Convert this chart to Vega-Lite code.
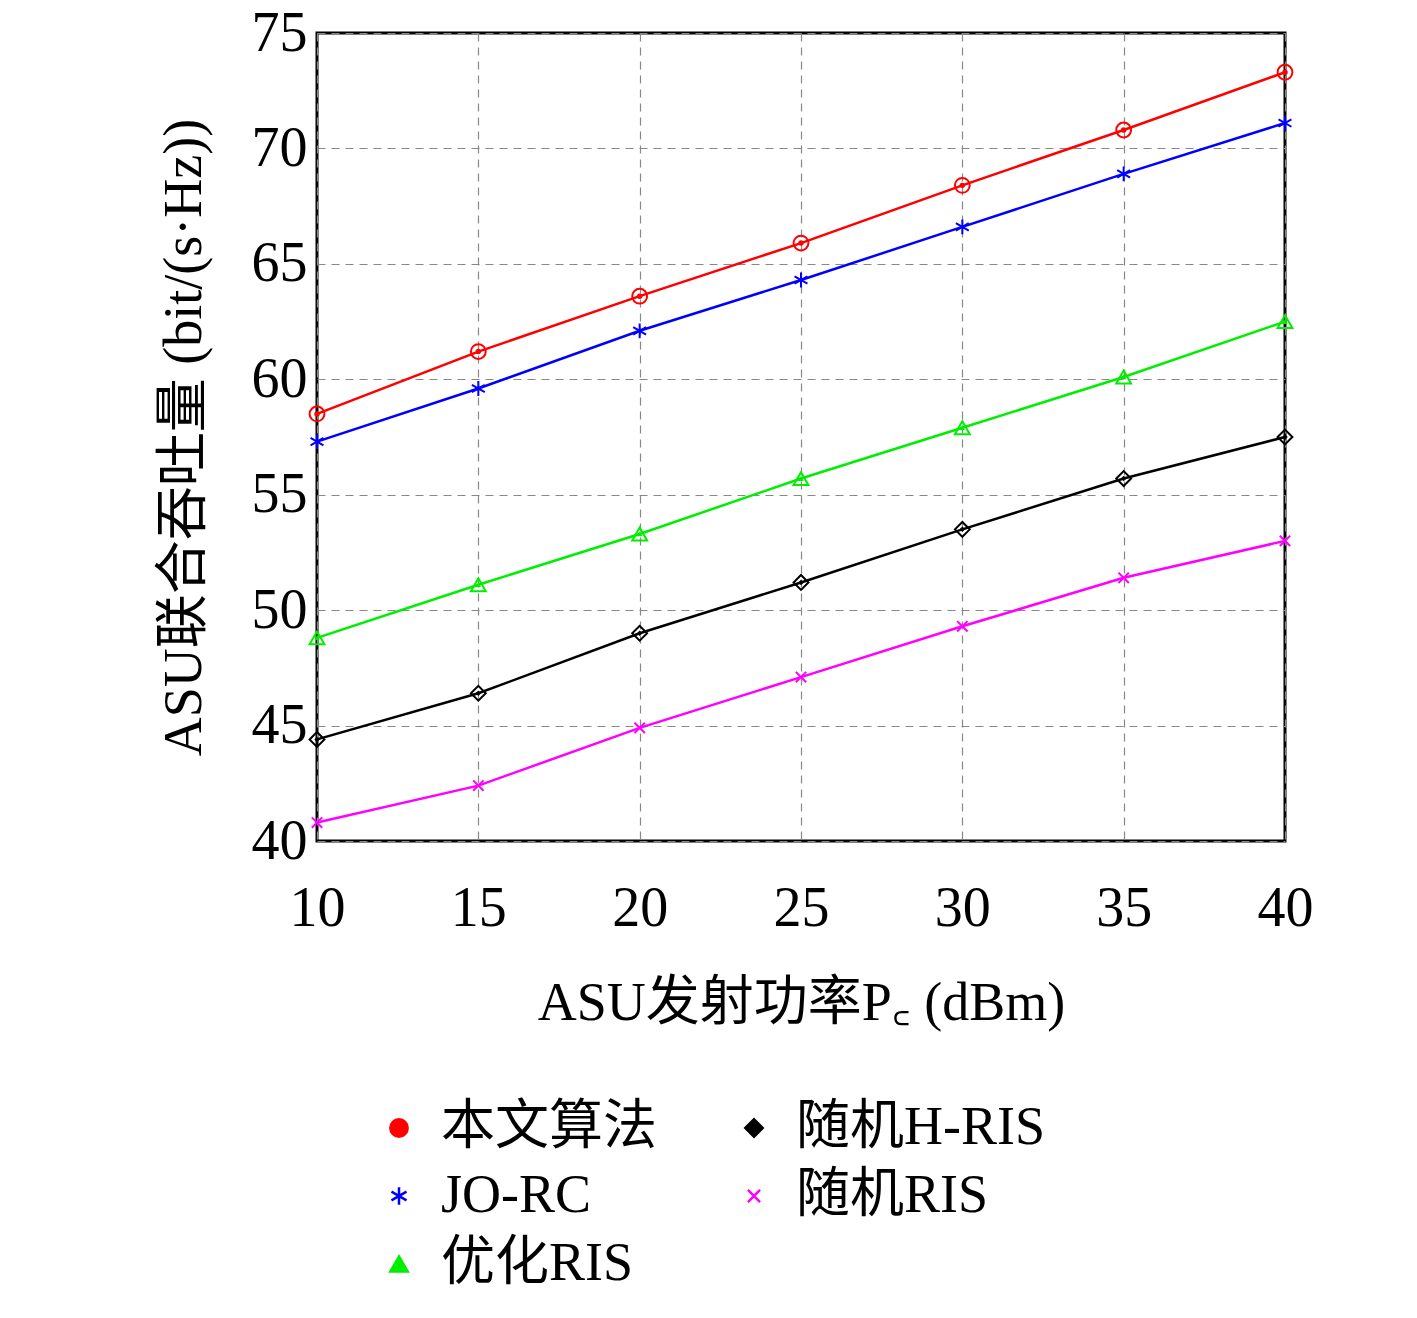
{
"$schema":"https://vega.github.io/schema/vega-lite/v6.json",
"width":968,"height":808,
"autosize":{"type":"none"},
"padding":{"left":317,"top":33,"right":132,"bottom":477},
"background":"white",
"config":{"font":"Liberation Serif, Noto Sans CJK SC","view":{"stroke":"black","strokeWidth":3}},
"data":{"values":[
{"x":10,"s":"本文算法","y":58.5},{"x":15,"s":"本文算法","y":61.2},{"x":20,"s":"本文算法","y":63.6},{"x":25,"s":"本文算法","y":65.9},{"x":30,"s":"本文算法","y":68.4},{"x":35,"s":"本文算法","y":70.8},{"x":40,"s":"本文算法","y":73.3},
{"x":10,"s":"JO-RC","y":57.3},{"x":15,"s":"JO-RC","y":59.6},{"x":20,"s":"JO-RC","y":62.1},{"x":25,"s":"JO-RC","y":64.3},{"x":30,"s":"JO-RC","y":66.6},{"x":35,"s":"JO-RC","y":68.9},{"x":40,"s":"JO-RC","y":71.1},
{"x":10,"s":"优化RIS","y":48.8},{"x":15,"s":"优化RIS","y":51.1},{"x":20,"s":"优化RIS","y":53.3},{"x":25,"s":"优化RIS","y":55.7},{"x":30,"s":"优化RIS","y":57.9},{"x":35,"s":"优化RIS","y":60.1},{"x":40,"s":"优化RIS","y":62.5},
{"x":10,"s":"随机H-RIS","y":44.4},{"x":15,"s":"随机H-RIS","y":46.4},{"x":20,"s":"随机H-RIS","y":49.0},{"x":25,"s":"随机H-RIS","y":51.2},{"x":30,"s":"随机H-RIS","y":53.5},{"x":35,"s":"随机H-RIS","y":55.7},{"x":40,"s":"随机H-RIS","y":57.5},
{"x":10,"s":"随机RIS","y":40.8},{"x":15,"s":"随机RIS","y":42.4},{"x":20,"s":"随机RIS","y":44.9},{"x":25,"s":"随机RIS","y":47.1},{"x":30,"s":"随机RIS","y":49.3},{"x":35,"s":"随机RIS","y":51.4},{"x":40,"s":"随机RIS","y":53.0}
]},
"encoding":{
"x":{"field":"x","type":"quantitative","scale":{"domain":[10,40],"nice":false},"axis":{"values":[10,15,20,25,30,35,40],"title":"ASU发射功率P꜀ (dBm)","titleFontSize":54,"titleFontWeight":"normal","titlePadding":40,"labelFontSize":56,"labelPadding":40,"labelFlush":false,"grid":true,"gridDash":[8,6],"gridColor":"#888","gridWidth":1.2,"tickSize":0,"domain":false}},
"y":{"field":"y","type":"quantitative","scale":{"domain":[40,75],"nice":false,"zero":false},"axis":{"values":[40,45,50,55,60,65,70,75],"title":"ASU联合吞吐量 (bit/(s·Hz))","titleFontSize":54,"titleFontWeight":"normal","titlePadding":40,"labelFontSize":56,"labelPadding":10,"labelFlush":false,"grid":true,"gridDash":[8,6],"gridColor":"#888","gridWidth":1.2,"tickSize":0,"domain":false}},
"color":{"field":"s","type":"nominal","scale":{"domain":["本文算法","JO-RC","优化RIS","随机H-RIS","随机RIS"],"range":["#ff0000","#0000ff","#00ee00","#000000","#ff00ff"]},"legend":{"orient":"none","legendX":55,"legendY":1068,"columns":2,"title":null,"labelFontSize":54,"labelLimit":600,"symbolSize":300,"symbolStrokeWidth":2.5,"rowPadding":14,"columnPadding":70,"labelOffset":15,"encode":{"symbols":{"update":{"fill":{"value":"white"},"stroke":{"scale":"color","field":"value"},"strokeWidth":{"value":2.5}}}}}},
"shape":{"field":"s","type":"nominal","scale":{"domain":["本文算法","JO-RC","优化RIS","随机H-RIS","随机RIS"],"range":["circle","M0,-1L0,1M-0.87,-0.5L0.87,0.5M-0.87,0.5L0.87,-0.5","triangle-up","diamond","M-0.7,-0.7L0.7,0.7M-0.7,0.7L0.7,-0.7"]}}
},
"layer":[
{"mark":{"type":"line","strokeWidth":2.5}},
{"mark":{"type":"point","filled":false,"size":220,"strokeWidth":2,"opacity":1}}
]
}
